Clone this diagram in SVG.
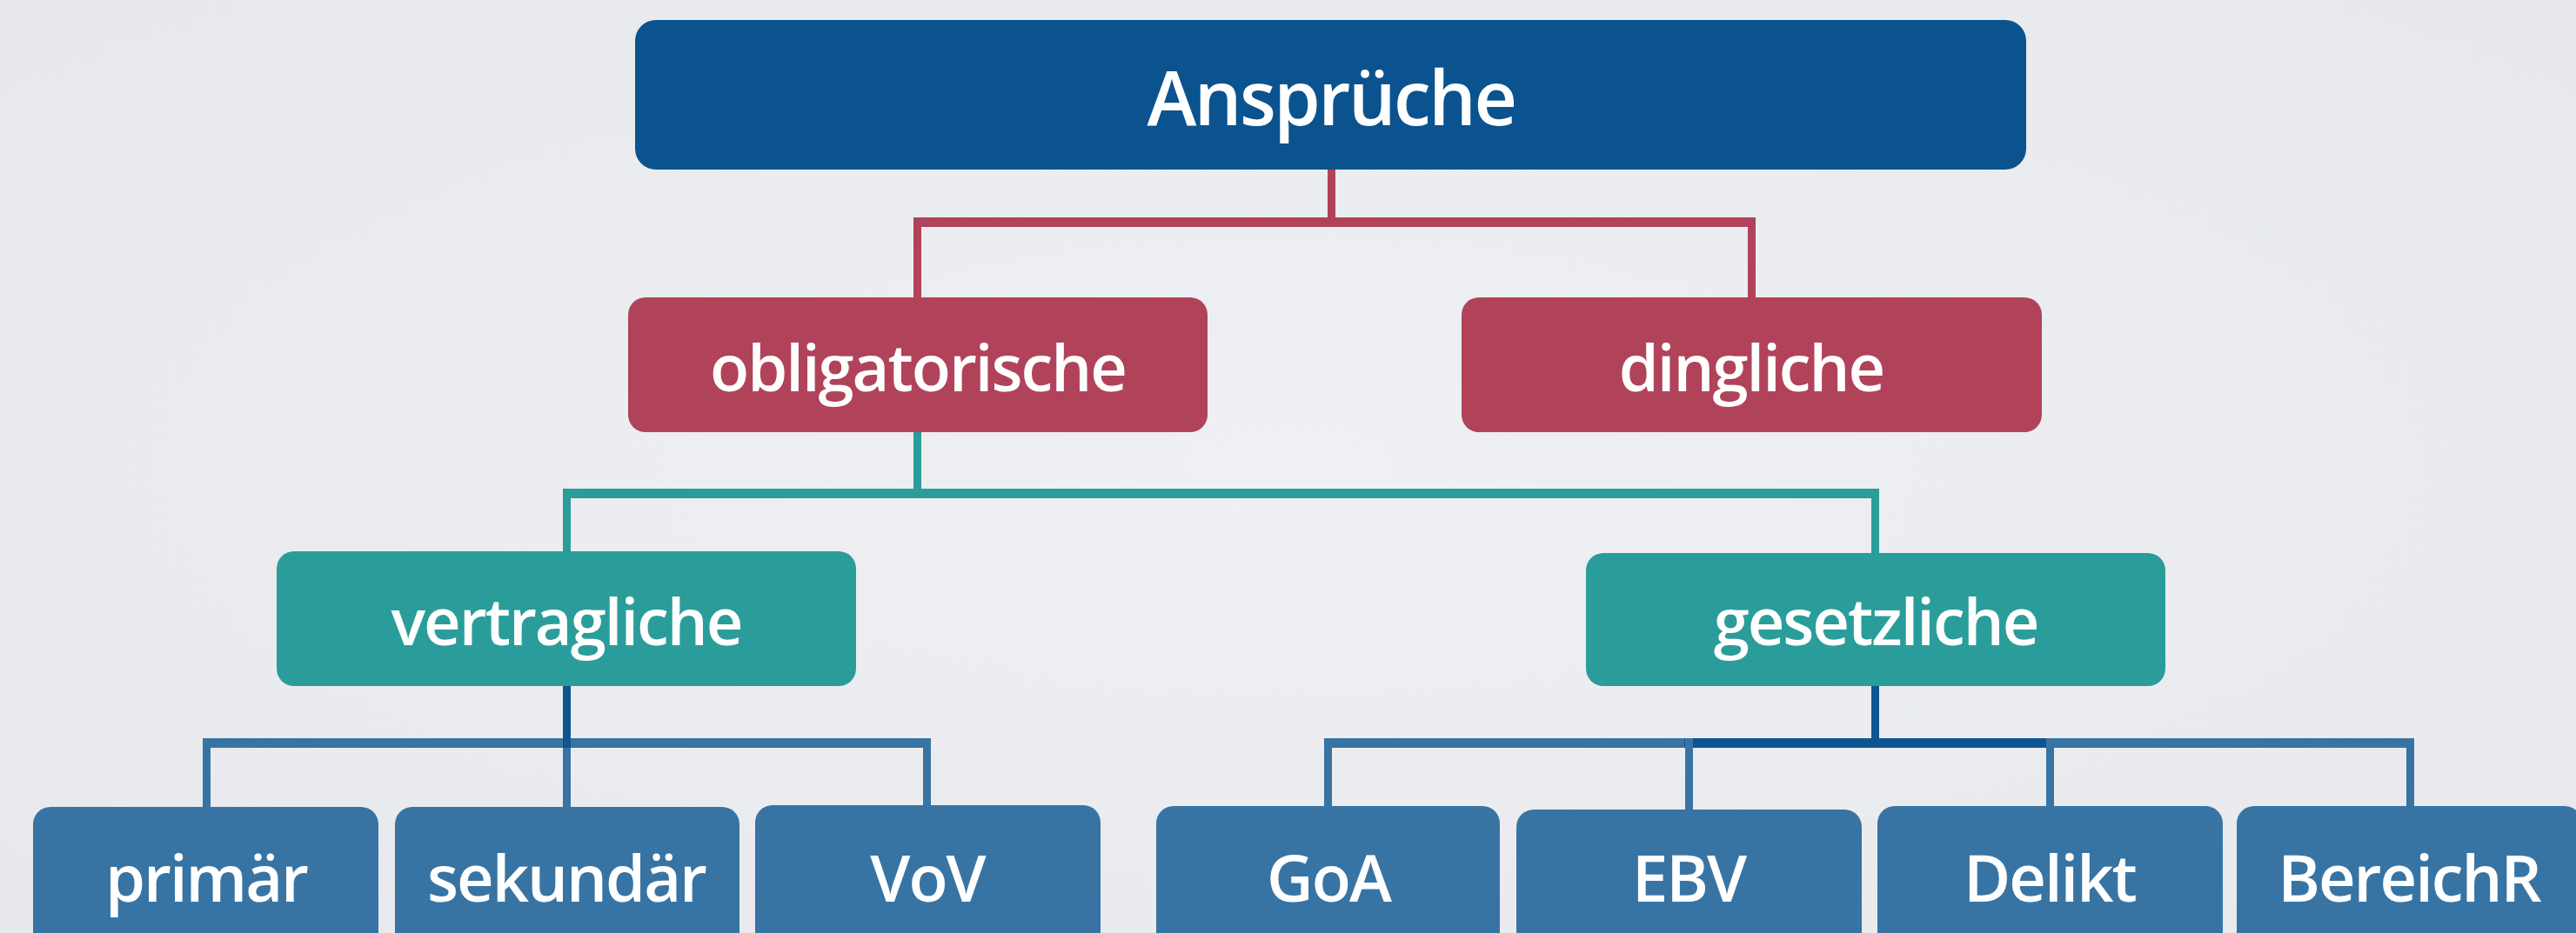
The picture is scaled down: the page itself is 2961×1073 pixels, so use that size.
<svg xmlns="http://www.w3.org/2000/svg" width="2961" height="1073" viewBox="0 0 2961 1073">
  <defs>
    <radialGradient id="bg" cx="50%" cy="50%" r="75%">
      <stop offset="0" stop-color="#eff0f3"/>
      <stop offset="1" stop-color="#e6e8eb"/>
    </radialGradient>
    <style>
      .lbl { font-family: "Open Sans", "Noto Sans", "DejaVu Sans", sans-serif; font-weight: 600; fill: #ffffff; text-anchor: middle; }
      .big { font-size: 86px; letter-spacing: -2.5px; }
      .mid { font-size: 74px; letter-spacing: -2px; }
      .root { fill: #0b538e; }
      .red { fill: #b0435a; }
      .teal { fill: #2a9d9a; }
      .blue { fill: #3874a3; }
      .navy { fill: #0d5590; }
    </style>
  </defs>
  <rect x="0" y="0" width="2961" height="1073" fill="url(#bg)"/>

  <g id="connectors">
    <!-- red -->
    <rect class="red" x="1526" y="194" width="9" height="66"/>
    <rect class="red" x="1050" y="250" width="968" height="11"/>
    <rect class="red" x="1050" y="250" width="9" height="94"/>
    <rect class="red" x="2009" y="250" width="9" height="94"/>
    <!-- teal -->
    <rect class="teal" x="1050" y="495" width="9" height="78"/>
    <rect class="teal" x="647" y="562" width="1513" height="11"/>
    <rect class="teal" x="647" y="562" width="9" height="74"/>
    <rect class="teal" x="2151" y="562" width="9" height="76"/>
    <!-- blue left -->
    <rect class="blue" x="233" y="849" width="837" height="11"/>
    <rect class="blue" x="233" y="849" width="9" height="81"/>
    <rect class="blue" x="647" y="849" width="9" height="81"/>
    <rect class="blue" x="1061" y="849" width="9" height="79"/>
    <rect class="navy" x="647" y="788" width="9" height="72"/>
    <!-- blue right -->
    <rect class="blue" x="1522" y="849" width="1253" height="11"/>
    <rect class="navy" x="1936" y="849" width="423" height="11"/>
    <rect class="blue" x="1522" y="849" width="9" height="80"/>
    <rect class="blue" x="1937" y="849" width="9" height="84"/>
    <rect class="blue" x="2352" y="849" width="9" height="80"/>
    <rect class="blue" x="2766" y="849" width="9" height="80"/>
    <rect class="navy" x="2151" y="787" width="9" height="73"/>
  </g>

  <g id="n-ansprueche">
    <rect class="root" x="730" y="23" width="1599" height="172" rx="24"/>
    <text class="lbl big" x="1530" y="144">Ansprüche</text>
  </g>
  <g id="n-obligatorische">
    <rect class="red" x="722" y="342" width="666" height="155" rx="20"/>
    <text class="lbl mid" x="1055" y="450">obligatorische</text>
  </g>
  <g id="n-dingliche">
    <rect class="red" x="1680" y="342" width="667" height="155" rx="20"/>
    <text class="lbl mid" x="2013" y="450">dingliche</text>
  </g>
  <g id="n-vertragliche">
    <rect class="teal" x="318" y="634" width="666" height="155" rx="20"/>
    <text class="lbl mid" x="651" y="742">vertragliche</text>
  </g>
  <g id="n-gesetzliche">
    <rect class="teal" x="1823" y="636" width="666" height="153" rx="20"/>
    <text class="lbl mid" x="2156" y="742">gesetzliche</text>
  </g>
  <g id="n-primaer">
    <rect class="blue" x="38" y="928" width="397" height="180" rx="20"/>
    <text class="lbl mid" x="237" y="1037">primär</text>
  </g>
  <g id="n-sekundaer">
    <rect class="blue" x="454" y="928" width="396" height="180" rx="20"/>
    <text class="lbl mid" x="651" y="1037">sekundär</text>
  </g>
  <g id="n-vov">
    <rect class="blue" x="868" y="926" width="397" height="180" rx="20"/>
    <text class="lbl mid" x="1066" y="1037">VoV</text>
  </g>
  <g id="n-goa">
    <rect class="blue" x="1329" y="927" width="395" height="180" rx="20"/>
    <text class="lbl mid" x="1527" y="1037">GoA</text>
  </g>
  <g id="n-ebv">
    <rect class="blue" x="1743" y="931" width="397" height="180" rx="20"/>
    <text class="lbl mid" x="1941" y="1037">EBV</text>
  </g>
  <g id="n-delikt">
    <rect class="blue" x="2158" y="927" width="397" height="180" rx="20"/>
    <text class="lbl mid" x="2356" y="1037">Delikt</text>
  </g>
  <g id="n-bereichr">
    <rect class="blue" x="2571" y="927" width="397" height="180" rx="20"/>
    <text class="lbl mid" x="2769" y="1037">BereichR</text>
  </g>
</svg>
